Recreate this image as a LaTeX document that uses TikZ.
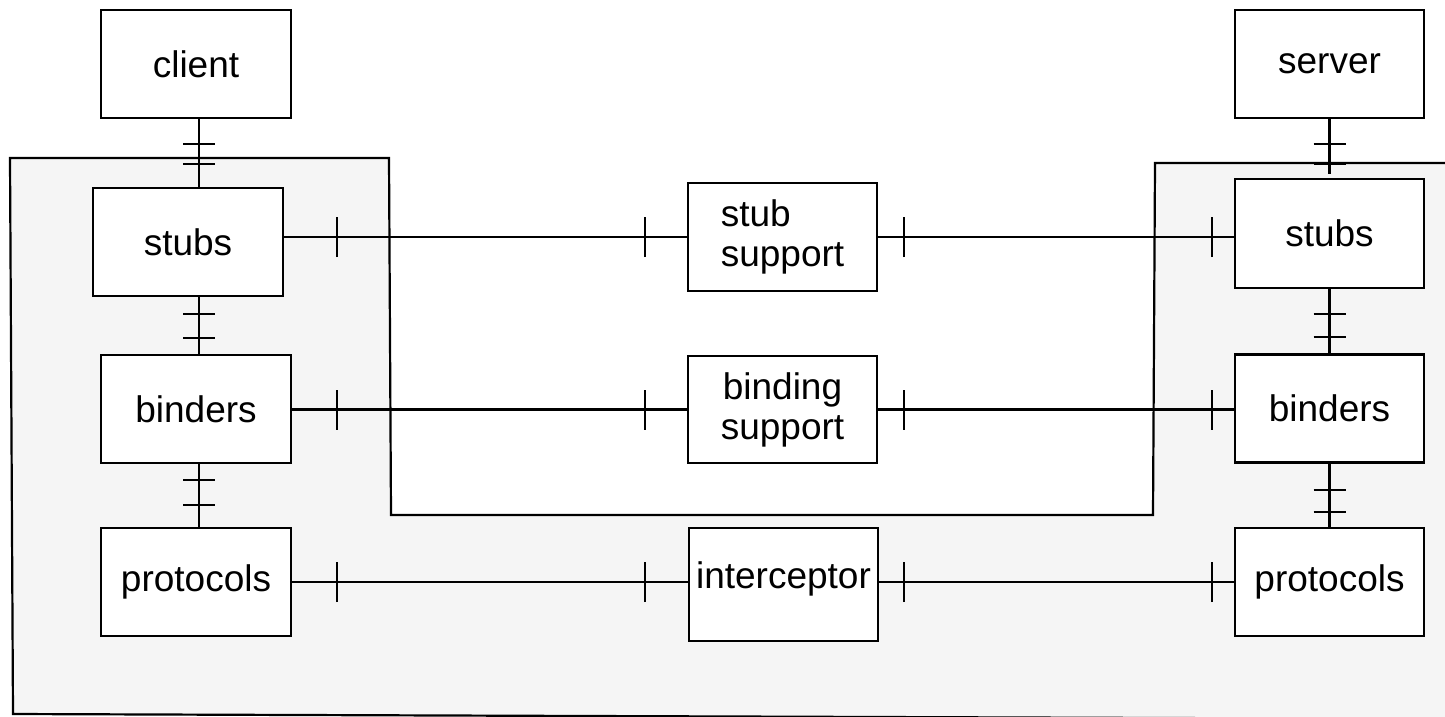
\documentclass[tikz,border=0pt]{standalone}
\usepackage{fontspec}
\setmainfont{Liberation Sans}
\usetikzlibrary{decorations.markings}
\definecolor{bgfill}{RGB}{245,245,245}
\tikzset{
  box/.style={draw, line width=2.3pt, fill=white, inner sep=0pt, minimum width=190pt, minimum height=108pt, font=\fontsize{37}{40}\selectfont},
  conn/.style={line width=2.2pt},
  hticks/.style 2 args={postaction={decorate, decoration={markings,
      mark=at position #1 with {\draw[line width=2.2pt] (0,-20pt) -- (0,20pt);},
      mark=at position #2 with {\draw[line width=2.2pt] (0,-20pt) -- (0,20pt);}}}},
  vticks/.style 2 args={postaction={decorate, decoration={markings,
      mark=at position #1 with {\draw[line width=2.2pt] (0,-16pt) -- (0,16pt);},
      mark=at position #2 with {\draw[line width=2.2pt] (0,-16pt) -- (0,16pt);}}}},
}
\begin{document}
\begin{tikzpicture}[x=1pt,y=-1pt]
\useasboundingbox (0,0) rectangle (1445,716);
\clip (0,0) rectangle (1445,716);
% background region
\draw[line width=2.2pt, fill=bgfill] (10,158) -- (389,158) -- (391,515) -- (1153,515) -- (1155,163) -- (1460,163) -- (1460,719) -- (13,714) -- cycle;

% left column
\node[box] (client) at (196,64) {client};
\node[box] (stubsL) at (188,242) {stubs};
\node[box] (bindersL) at (196,409) {binders};
\node[box] (protL) at (196,582) {protocols};
% middle
\node[box, minimum width=189pt, align=left] (ss) at (782.5,237) {stub\\support};
\node[box, minimum width=189pt, minimum height=107pt, align=center] (bs) at (782.5,409.5) {binding\\support};
\node[box, minimum width=189pt, minimum height=113pt, text depth=18pt] (ic) at (783.5,584.5) {interceptor};
% right column
\node[box, minimum width=189pt] (server) at (1329.5,64) {server};
\node[box, minimum width=189pt, minimum height=109pt] (stubsR) at (1329.5,233.5) {stubs};
\node[box, minimum width=189pt] (bindersR) at (1329.5,408.5) {binders};
\node[box, minimum width=189pt] (protR) at (1329.5,582) {protocols};

% vertical connectors
\coordinate (cxL) at (199,0);
\draw[conn, vticks={25pt}{-23pt}] (client.south -| cxL) -- (stubsL.north -| cxL);
\draw[conn, vticks={17pt}{-16pt}] (stubsL.south -| cxL) -- (bindersL.north -| cxL);
\draw[conn, vticks={16pt}{-22pt}] (bindersL.south -| cxL) -- (protL.north -| cxL);
\draw[conn, vticks={25pt}{-10pt}] (server.south) -- ([yshift=4pt]stubsR.north);
\draw[conn, vticks={25pt}{-16pt}] (stubsR.south) -- (bindersR.north);
\draw[conn, vticks={26pt}{-15pt}] (bindersR.south) -- (protR.north);

% horizontal connectors
\draw[conn, hticks={53pt}{-42pt}] (stubsL.east |- ss.west) -- (ss.west);
\draw[conn, hticks={26pt}{-22pt}] (ss.east) -- (stubsR.west |- ss.east);
\draw[conn, hticks={45pt}{-42pt}] (bindersL.east |- bs.west) -- (bs.west);
\draw[conn, hticks={26pt}{-22pt}] (bs.east) -- (bindersR.west |- bs.east);
\draw[conn, hticks={45pt}{-43pt}] (protL.east) -- (ic.west |- protL.east);
\draw[conn, hticks={25pt}{-22pt}] (ic.east |- protR.west) -- (protR.west);
\end{tikzpicture}
\end{document}
